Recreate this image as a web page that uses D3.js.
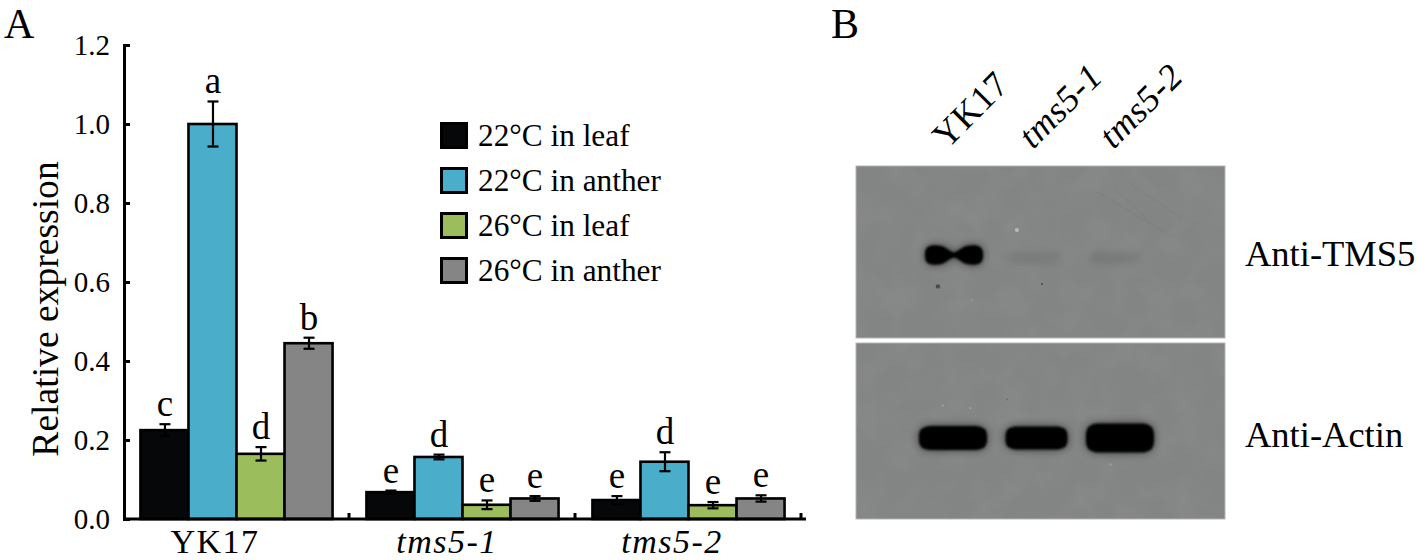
<!DOCTYPE html>
<html>
<head>
<meta charset="utf-8">
<script src="https://cdn.jsdelivr.net/npm/d3@7"></script>
<style>
    body { margin: 0; background: #fff; }
    text { font-family: "Liberation Serif", serif; fill: #000; }
</style>
</head>
<body>
<div id="chart"></div>
<script>
// panel A values
const groups = ['YK17', 'tms5-1', 'tms5-2'];
const seriesNames = ['22°C in leaf', '22°C in anther', '26°C in leaf', '26°C in anther'];
const seriesColors = ['#050708', '#4aadc9', '#9cbd5c', '#858585'];
const leaf22 = [0.225, 0.068, 0.048];
const anther22 = [1.0, 0.157, 0.145];
const leaf26 = [0.165, 0.036, 0.035];
const anther26 = [0.445, 0.052, 0.052];
const leaf22Err = [0.015, 0.004, 0.010];
const anther22Err = [0.057, 0.006, 0.024];
const leaf26Err = [0.017, 0.011, 0.008];
const anther26Err = [0.014, 0.006, 0.008];
const leaf22Sig = ['c', 'e', 'e'];
const anther22Sig = ['a', 'd', 'd'];
const leaf26Sig = ['d', 'e', 'e'];
const anther26Sig = ['b', 'e', 'e'];
const yTicks = [0, 0.2, 0.4, 0.6, 0.8, 1.0, 1.2];

// panel B values: band width and darkness per lane, shape along the band
const laneAmountTms = [58, 53, 50];
const laneDarkTms = [1, 0.055, 0.065];
const laneAmountActin = [68, 62, 68];
const laneThickActin = [24, 23, 29];
const profileAt = [0, 0.03, 0.12, 0.3, 0.5, 0.7, 0.88, 0.97, 1];
const profilePill = [0.3, 0.72, 0.96, 1, 1, 1, 0.96, 0.72, 0.3];
const profilePinch = [0.3, 0.75, 1, 0.92, 0.3, 0.92, 1, 0.75, 0.3];
const specksTop = [[0.222, 0.70, 2.2, '#4a4c4b'], [0.504, 0.686, 1.2, '#5a5c5b'], [0.436, 0.372, 2, '#b9bbba'], [0.315, 0.78, 1.4, '#939594']];
const specksBottom = [[0.235, 0.355, 1.2, '#9a9c9b'], [0.31, 0.37, 1.2, '#9a9c9b'], [0.69, 0.69, 1.2, '#9a9c9b'], [0.41, 0.32, 1.1, '#6c6e6d']];
const scratches = [[0.653, 0.15, 0.859, 0.415], [0.70, 0.13, 0.80, 0.33], [0.74, 0.10, 0.88, 0.30]];

const width = 1418, height = 560;
const svg = d3.select('#chart').append('svg')
    .attr('width', width).attr('height', height)
    .style('display', 'block');

const defs = svg.append('defs');
function addBlur(id, dev) {
    defs.append('filter').attr('id', id)
        .attr('x', '-30%').attr('y', '-100%').attr('width', '160%').attr('height', '300%')
        .append('feGaussianBlur').attr('stdDeviation', dev);
}
addBlur('blur_core', 1.3);
addBlur('blur_halo', 4);
addBlur('blur_faint', 3);
addBlur('blur_speck', 0.7);

// faint membrane mottling
const grain = defs.append('filter').attr('id', 'grain')
    .attr('x', 0).attr('y', 0).attr('width', '100%').attr('height', '100%');
grain.append('feTurbulence').attr('type', 'fractalNoise').attr('baseFrequency', 0.035)
    .attr('numOctaves', 3).attr('seed', 4);
grain.append('feColorMatrix').attr('type', 'matrix')
    .attr('values', '0 0 0 0 0.42  0 0 0 0 0.43  0 0 0 0 0.42  0.55 0 0 0 -0.18');

// ---- panel A
const x0 = d3.scaleBand().domain(groups).range([124, 802]).paddingInner(0.15).paddingOuter(0.075);
const x1 = d3.scaleBand().domain(seriesNames).range([0, x0.bandwidth()]);
const y = d3.scaleLinear().domain([0, 1.2]).range([519, 45]);

const barValues = [leaf22, anther22, leaf26, anther26];
const barErrors = [leaf22Err, anther22Err, leaf26Err, anther26Err];
const barLetters = [leaf22Sig, anther22Sig, leaf26Sig, anther26Sig];

const bars = [];
groups.forEach((g, gi) => {
    seriesNames.forEach((s, si) => {
        bars.push({group: g, name: s, color: seriesColors[si], value: barValues[si][gi],
            err: barErrors[si][gi], letter: barLetters[si][gi]});
    });
});

const barX = d => x0(d.group) + x1(d.name);
const barMid = d => barX(d) + x1.bandwidth() / 2;

svg.selectAll('rect.bar')
    .data(bars)
    .enter().append('rect')
    .attr('class', 'bar')
    .attr('x', d => barX(d) - 0.5)
    .attr('y', d => y(d.value))
    .attr('width', x1.bandwidth())
    .attr('height', d => y(0) - y(d.value))
    .attr('fill', d => d.color)
    .attr('stroke', '#000')
    .attr('stroke-width', 2.6);

const errs = svg.selectAll('g.err').data(bars).enter().append('g').attr('class', 'err')
    .attr('stroke', '#000').attr('stroke-width', 2.2);
errs.append('line')
    .attr('x1', barMid).attr('x2', barMid)
    .attr('y1', d => y(d.value + d.err)).attr('y2', d => y(d.value - d.err));
errs.append('line')
    .attr('x1', d => barMid(d) - 5.5).attr('x2', d => barMid(d) + 5.5)
    .attr('y1', d => y(d.value + d.err)).attr('y2', d => y(d.value + d.err));
errs.append('line')
    .attr('x1', d => barMid(d) - 5.5).attr('x2', d => barMid(d) + 5.5)
    .attr('y1', d => y(d.value - d.err)).attr('y2', d => y(d.value - d.err));

svg.selectAll('text.sig')
    .data(bars)
    .enter().append('text')
    .attr('class', 'sig')
    .attr('x', barMid)
    .attr('y', d => y(d.value + d.err) - 8)
    .attr('text-anchor', 'middle')
    .style('font-size', '37px')
    .text(d => d.letter);

// y axis, ticks point into the plot
const yAxis = svg.append('g')
    .attr('transform', 'translate(124,0)')
    .call(d3.axisLeft(y).tickValues(yTicks).tickFormat(d3.format('.1f')).tickSize(-6).tickPadding(14));
yAxis.select('.domain').attr('stroke-width', 3).attr('stroke', '#000');
yAxis.selectAll('.tick line').attr('stroke-width', 3).attr('stroke', '#000');
yAxis.selectAll('.tick text').style('font-size', '29px').attr('dy', '0.34em');

// x axis, labels under the groups and ticks between them
const xLabelShift = [-22, -16, -17];
const xAxis = svg.append('g')
    .attr('transform', 'translate(0,519)')
    .call(d3.axisBottom(x0).tickSize(0).tickPadding(0));
xAxis.select('.domain').remove();
xAxis.selectAll('.tick text')
    .attr('x', (d, i) => xLabelShift[i])
    .attr('y', 33.5)
    .attr('dy', 0)
    .style('font-size', '34px')
    .style('letter-spacing', '1.5px')
    .style('font-style', d => d === 'YK17' ? 'normal' : 'italic');

svg.append('line')
    .attr('x1', 124).attr('x2', x0.range()[1] + 4)
    .attr('y1', y(0)).attr('y2', y(0))
    .attr('stroke', '#000').attr('stroke-width', 3.2);

svg.selectAll('line.group_tick')
    .data(groups)
    .enter().append('line')
    .attr('class', 'group_tick')
    .attr('x1', d => x0(d) + x0.bandwidth() + x0.step() * 0.075 - 1)
    .attr('x2', d => x0(d) + x0.bandwidth() + x0.step() * 0.075 - 1)
    .attr('y1', y(0)).attr('y2', y(0) - 6)
    .attr('stroke', '#000').attr('stroke-width', 3);

svg.append('text')
    .attr('transform', 'translate(58,309) rotate(-90)')
    .attr('text-anchor', 'middle')
    .style('font-size', '37.6px')
    .text('Relative expression');

// legend
const legendY = d3.scalePoint().domain(seriesNames).range([135.5, 270.5]);
const legend = svg.selectAll('g.legend_row')
    .data(seriesNames)
    .enter().append('g')
    .attr('class', 'legend_row')
    .attr('transform', d => `translate(0,${legendY(d)})`);
legend.append('rect')
    .attr('x', 441.5).attr('y', -12)
    .attr('width', 25).attr('height', 24)
    .attr('fill', (d, i) => seriesColors[i])
    .attr('stroke', '#000').attr('stroke-width', 3);
legend.append('text')
    .attr('x', 478).attr('y', 10)
    .style('font-size', '31.3px')
    .text(d => d);

svg.append('text').attr('x', 4).attr('y', 37.5).style('font-size', '42px').text('A');
svg.append('text').attr('x', 831).attr('y', 37.5).style('font-size', '42px').text('B');

// ---- panel B
const lane = d3.scalePoint().domain(groups).range([954, 1115]);
const panels = [
    {x: 856, w: 369, y: 166, h: 172, mid: 255, specks: specksTop, scratches: scratches},
    {x: 856, w: 369, y: 343, h: 176, mid: 438, specks: specksBottom, scratches: []}
];

function bandPath(cx, w, mid, thick, profile) {
    const bx = d3.scaleLinear().domain([0, 1]).range([cx - w / 2, cx + w / 2]);
    return d3.area()
        .x(d => bx(d))
        .y0((d, i) => mid - thick / 2 * profile[i])
        .y1((d, i) => mid + thick / 2 * profile[i])
        .curve(d3.curveCatmullRom)(profileAt);
}

panels.forEach((p, pi) => {
    const px = d3.scaleLinear().domain([0, 1]).range([p.x, p.x + p.w]);
    const py = d3.scaleLinear().domain([0, 1]).range([p.y, p.y + p.h]);
    const blot = svg.append('g').attr('class', 'blot');

    blot.append('rect').attr('x', p.x).attr('y', p.y).attr('width', p.w).attr('height', p.h)
        .attr('fill', '#838584').attr('stroke', '#b3b5b4').attr('stroke-width', 1);
    blot.append('rect').attr('x', p.x + 1).attr('y', p.y + 1).attr('width', p.w - 2).attr('height', p.h - 2)
        .attr('filter', 'url(#grain)').attr('opacity', 0.35);

    blot.selectAll('line.scratch')
        .data(p.scratches)
        .enter().append('line')
        .attr('class', 'scratch')
        .attr('x1', d => px(d[0])).attr('y1', d => py(d[1]))
        .attr('x2', d => px(d[2])).attr('y2', d => py(d[3]))
        .attr('stroke', '#737574').attr('stroke-width', 1).attr('opacity', 0.35);

    blot.selectAll('circle.speck')
        .data(p.specks)
        .enter().append('circle')
        .attr('class', 'speck')
        .attr('cx', d => px(d[0])).attr('cy', d => py(d[1])).attr('r', d => d[2])
        .attr('fill', d => d[3])
        .attr('filter', 'url(#blur_speck)');

    groups.forEach((g, i) => {
        const isTop = pi === 0;
        const w = isTop ? laneAmountTms[i] : laneAmountActin[i];
        const thick = isTop ? (i === 0 ? 19 : 12) : laneThickActin[i];
        const profile = isTop && i === 0 ? profilePinch : profilePill;
        const cx = isTop ? lane(g) : lane(g) + i * 3 - 1;
        const d = bandPath(cx, w, isTop && i > 0 ? p.mid + 3 : p.mid, thick, profile);
        const dark = isTop ? laneDarkTms[i] : 1;
        if (dark < 0.5) {
            blot.append('path').attr('d', d).attr('fill', '#303231')
                .attr('opacity', dark * 2).attr('filter', 'url(#blur_faint)');
        } else {
            blot.append('path').attr('d', d).attr('fill', '#111').attr('opacity', 0.6).attr('filter', 'url(#blur_halo)');
            blot.append('path').attr('d', d).attr('fill', '#040506').attr('filter', 'url(#blur_core)');
        }
    });
});

svg.append('text').attr('x', 1245).attr('y', 266).style('font-size', '36.5px').text('Anti-TMS5');
svg.append('text').attr('x', 1245).attr('y', 447).style('font-size', '36.5px').text('Anti-Actin');

svg.selectAll('text.lane')
    .data(groups)
    .enter().append('text')
    .attr('class', 'lane')
    .attr('transform', (d, i) => `translate(${lane(d) - (i === 0 ? 7 : 1.5)},150) rotate(-45)`)
    .style('font-size', '36px')
    .style('letter-spacing', '0.5px')
    .style('font-style', d => d === 'YK17' ? 'normal' : 'italic')
    .text(d => d);
</script>
</body>
</html>
